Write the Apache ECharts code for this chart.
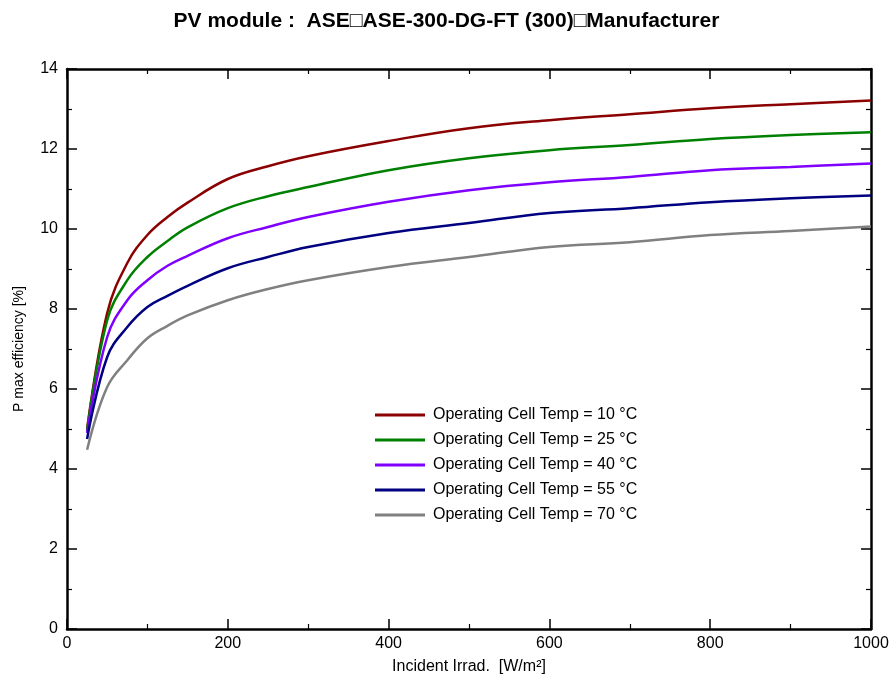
<!DOCTYPE html>
<html>
<head>
<meta charset="utf-8">
<script src="https://cdn.jsdelivr.net/npm/echarts@6/dist/echarts.min.js"></script>
<style>
  html, body { margin: 0; padding: 0; background: #fff; }
  #chart { width: 893px; height: 681px; }
</style>
</head>
<body>
<div id="chart"></div>
<script>
// irradiance (W/m2)
var irrad = [25, 50, 75, 100, 125, 150, 200, 250, 300, 400, 500, 600, 700, 800, 900, 1000];

// P max efficiency (%) per cell temperature
var eff10 = [5.0, 7.9, 9.15, 9.85, 10.3, 10.66, 11.25, 11.57, 11.82, 12.2, 12.52, 12.72, 12.87, 13.02, 13.12, 13.21];
var eff25 = [4.95, 7.72, 8.72, 9.3, 9.7, 10.04, 10.52, 10.82, 11.05, 11.47, 11.77, 11.97, 12.1, 12.25, 12.35, 12.42];
var eff40 = [4.9, 7.3, 8.22, 8.72, 9.08, 9.33, 9.77, 10.05, 10.3, 10.68, 10.97, 11.17, 11.3, 11.47, 11.55, 11.64];
var eff55 = [4.75, 6.8, 7.55, 8.05, 8.33, 8.58, 9.02, 9.3, 9.55, 9.9, 10.15, 10.4, 10.52, 10.67, 10.77, 10.84];
var eff70 = [4.48, 6.05, 6.72, 7.27, 7.58, 7.84, 8.22, 8.5, 8.72, 9.05, 9.3, 9.55, 9.67, 9.85, 9.95, 10.06];

var names = [
    'Operating Cell Temp = 10 °C',
    'Operating Cell Temp = 25 °C',
    'Operating Cell Temp = 40 °C',
    'Operating Cell Temp = 55 °C',
    'Operating Cell Temp = 70 °C'
];
var colors = ['#8b0000', '#008000', '#8000ff', '#000080', '#808080'];
var allData = [eff10, eff25, eff40, eff55, eff70];

var chart = echarts.init(document.getElementById('chart'));

function pairs(ys) {
    return irrad.map(function (x, i) { return [x, ys[i]]; });
}

var series = allData.map(function (ys, i) {
    return {
        name: names[i],
        type: 'line',
        data: pairs(ys),
        smooth: 0.4,
        showSymbol: false,
        lineStyle: { color: colors[i], width: 2.5 },
        itemStyle: { color: colors[i] }
    };
});

var axisFont = { color: '#000', fontFamily: 'Liberation Sans', fontSize: 16 };
var tickStyle = { inside: true, length: 10, lineStyle: { color: '#000', width: 1.5 } };
var minorStyle = { show: true, splitNumber: 2, length: 5, lineStyle: { color: '#000', width: 1.2 } };
var lineStyle = { show: true, onZero: false, lineStyle: { color: '#000', width: 2.5 } };

var option = {
    backgroundColor: '#fff',
    animation: false,
    title: {
        text: 'PV module :  ASE\u25A1ASE-300-DG-FT (300)\u25A1Manufacturer',
        left: 'center',
        top: 6,
        textStyle: { fontFamily: 'Liberation Sans', fontWeight: 'bold', fontSize: 21, color: '#000' }
    },
    color: colors,
    legend: {
        orient: 'vertical',
        left: 370,
        top: 402,
        icon: 'rect',
        itemWidth: 50,
        itemHeight: 3,
        itemGap: 9,
        textStyle: { fontFamily: 'Liberation Sans', fontSize: 16, color: '#000', padding: [0, 0, 0, 3] },
        data: names
    },
    grid: { left: 67, right: 22, top: 69, bottom: 52 },
    xAxis: [{
        type: 'value',
        min: 0, max: 1000, interval: 200,
        name: 'Incident Irrad.  [W/m\u00b2]',
        nameLocation: 'middle',
        nameGap: 30,
        nameTextStyle: axisFont,
        axisLine: lineStyle,
        axisTick: tickStyle,
        minorTick: minorStyle,
        axisLabel: Object.assign({ margin: 7, formatter: function (v) { return String(v); } }, axisFont),
        splitLine: { show: false }
    }, {
        type: 'value',
        position: 'top',
        min: 0, max: 1000, interval: 200,
        axisLine: lineStyle,
        axisTick: tickStyle,
        minorTick: minorStyle,
        axisLabel: { show: false },
        splitLine: { show: false }
    }],
    yAxis: [{
        type: 'value',
        min: 0, max: 14, interval: 2,
        name: 'P max efficiency [%]',
        nameLocation: 'middle',
        nameGap: 41,
        nameTextStyle: { color: '#000', fontFamily: 'Liberation Sans', fontSize: 14 },
        axisLine: lineStyle,
        axisTick: tickStyle,
        minorTick: minorStyle,
        axisLabel: Object.assign({ margin: 9 }, axisFont),
        splitLine: { show: false }
    }, {
        type: 'value',
        position: 'right',
        min: 0, max: 14, interval: 2,
        axisLine: lineStyle,
        axisTick: tickStyle,
        minorTick: minorStyle,
        axisLabel: { show: false },
        splitLine: { show: false }
    }],
    series: series
};

chart.setOption(option);
</script>
</body>
</html>
